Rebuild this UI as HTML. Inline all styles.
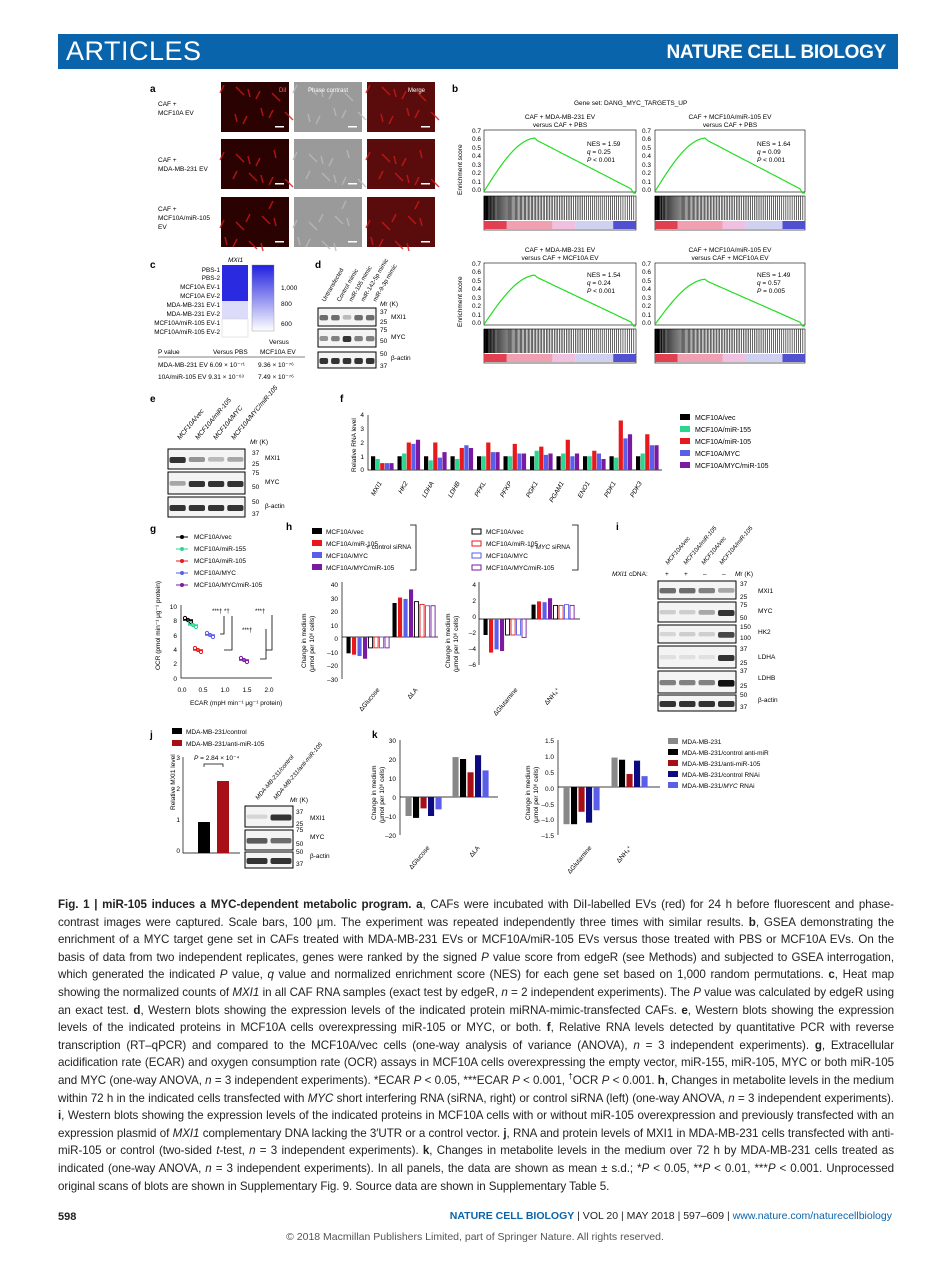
<!DOCTYPE html>
<html><head><meta charset="utf-8">
<style>
body{margin:0;background:#fff;width:950px;height:1263px;position:relative;overflow:hidden;font-family:"Liberation Sans",sans-serif}
#bar{position:absolute;left:58px;top:34px;width:840px;height:35px;background:#0a64ab}
#bar .l{position:absolute;left:8px;top:2px;color:#fff;font-size:27px;letter-spacing:0.5px}
#bar .r{position:absolute;right:12px;top:8px;color:#fff;font-size:19px;font-weight:bold;letter-spacing:-0.3px}
#cap{position:absolute;left:58px;top:896px;width:836px;font-size:11.6px;line-height:17.6px;color:#222;text-align:justify;letter-spacing:-0.05px}
#cap b{font-weight:bold}
#cap sup{line-height:0;font-size:8px}
.ft{position:absolute;font-size:10.5px;color:#222}
svg text{font-family:"Liberation Sans",sans-serif}
</style></head><body>
<div id="bar"><span class="l">ARTICLES</span><span class="r">NATURE CELL BIOLOGY</span></div>
<svg id="fig" width="950" height="900" style="position:absolute;left:0;top:0" font-size="6.5">
<!-- panel a -->
<text x="150" y="92" font-size="10" font-weight="bold">a</text>
<text x="158" y="106">CAF +</text><text x="158" y="115">MCF10A EV</text>
<text x="158" y="162">CAF +</text><text x="158" y="171">MDA-MB-231 EV</text>
<text x="158" y="211">CAF +</text><text x="158" y="220">MCF10A/miR-105</text><text x="158" y="229">EV</text>
<g id="aimgs"></g>
<text x="279" y="92" fill="#f66" font-size="6">DiI</text>
<text x="308" y="92" fill="#fff" font-size="6">Phase contrast</text>
<text x="408" y="92" fill="#fff" font-size="6">Merge</text>
<!-- panel b -->
<text x="452" y="92" font-size="10" font-weight="bold">b</text>
<text x="574" y="105" font-size="6.5">Gene set: DANG_MYC_TARGETS_UP</text>
<text x="560" y="119" text-anchor="middle">CAF + MDA-MB-231 EV</text><text x="560" y="127" text-anchor="middle">versus CAF + PBS</text>
<text x="730" y="119" text-anchor="middle">CAF + MCF10A/miR-105 EV</text><text x="730" y="127" text-anchor="middle">versus CAF + PBS</text>
<text x="560" y="252" text-anchor="middle">CAF + MDA-MB-231 EV</text><text x="560" y="260" text-anchor="middle">versus CAF + MCF10A EV</text>
<text x="730" y="252" text-anchor="middle">CAF + MCF10A/miR-105 EV</text><text x="730" y="260" text-anchor="middle">versus CAF + MCF10A EV</text>
<g id="gsea"></g>
<text x="587" y="146">NES = 1.59</text><text x="587" y="154"><tspan font-style="italic">q</tspan> = 0.25</text><text x="587" y="162"><tspan font-style="italic">P</tspan> &lt; 0.001</text>
<text x="757" y="146">NES = 1.64</text><text x="757" y="154"><tspan font-style="italic">q</tspan> = 0.09</text><text x="757" y="162"><tspan font-style="italic">P</tspan> &lt; 0.001</text>
<text x="587" y="277">NES = 1.54</text><text x="587" y="285"><tspan font-style="italic">q</tspan> = 0.24</text><text x="587" y="293"><tspan font-style="italic">P</tspan> &lt; 0.001</text>
<text x="757" y="277">NES = 1.49</text><text x="757" y="285"><tspan font-style="italic">q</tspan> = 0.57</text><text x="757" y="293"><tspan font-style="italic">P</tspan> = 0.005</text>
<text transform="translate(462,195) rotate(-90)">Enrichment score</text>
<text transform="translate(462,327) rotate(-90)">Enrichment score</text>
<!-- panel c -->
<text x="150" y="268" font-size="10" font-weight="bold">c</text>
<text x="228" y="262" font-style="italic">MXI1</text>
<g text-anchor="end" font-size="6.3">
<text x="220" y="272">PBS-1</text><text x="220" y="280">PBS-2</text><text x="220" y="289">MCF10A EV-1</text><text x="220" y="298">MCF10A EV-2</text><text x="220" y="307">MDA-MB-231 EV-1</text><text x="220" y="316">MDA-MB-231 EV-2</text><text x="220" y="325">MCF10A/miR-105 EV-1</text><text x="220" y="334">MCF10A/miR-105 EV-2</text></g>
<rect x="222" y="265" width="26" height="36" fill="#2a2ae0"/><rect x="222" y="301" width="26" height="18" fill="#dcdcfa"/><rect x="222" y="319" width="26" height="18" fill="#fff" stroke="#ccc" stroke-width=".5"/>
<defs><linearGradient id="cb" x1="0" y1="0" x2="0" y2="1"><stop offset="0" stop-color="#2020e0"/><stop offset="1" stop-color="#fff"/></linearGradient></defs>
<rect x="252" y="265" width="22" height="66" fill="url(#cb)" stroke="#888" stroke-width=".4"/>
<text x="281" y="290">1,000</text><text x="281" y="306">800</text><text x="281" y="326">600</text>
<text x="269" y="344">Versus</text>
<text x="158" y="354">P value</text><text x="213" y="354">Versus PBS</text><text x="260" y="354">MCF10A EV</text>
<line x1="158" y1="357" x2="305" y2="357" stroke="#000" stroke-width=".5"/>
<text x="158" y="367">MDA-MB-231 EV  6.09 × 10⁻⁷¹</text><text x="258" y="367">9.36 × 10⁻⁷⁶</text>
<text x="158" y="379">10A/miR-105 EV  9.31 × 10⁻⁶³</text><text x="258" y="379">7.49 × 10⁻⁷⁶</text>
<!-- panel d -->
<text x="315" y="268" font-size="10" font-weight="bold">d</text>
<g font-size="6">
<text transform="translate(325,302) rotate(-60)">Untransfected</text>
<text transform="translate(340,302) rotate(-60)">Control mimic</text>
<text transform="translate(352,302) rotate(-60)">miR-105 mimic</text>
<text transform="translate(364,302) rotate(-60)">miR-142-5p mimic</text>
<text transform="translate(376,302) rotate(-60)">miR-9-3p mimic</text></g>
<text x="380" y="306"><tspan font-style="italic">M</tspan>r (K)</text>
<g id="blotd"></g>
<text x="380" y="314">37</text><text x="380" y="324">25</text><text x="391" y="319">MXI1</text>
<text x="380" y="332">75</text><text x="380" y="343">50</text><text x="391" y="339">MYC</text>
<text x="380" y="356">50</text><text x="380" y="368">37</text><text x="391" y="360">β-actin</text>
<!-- panel e -->
<text x="150" y="402" font-size="10" font-weight="bold">e</text>
<g font-size="6.5" font-style="italic">
<text transform="translate(180,440) rotate(-50)">MCF10A/vec</text>
<text transform="translate(198,440) rotate(-50)">MCF10A/miR-105</text>
<text transform="translate(216,440) rotate(-50)">MCF10A/MYC</text>
<text transform="translate(234,440) rotate(-50)">MCF10A/MYC/miR-105</text></g>
<text x="250" y="444"><tspan font-style="italic">M</tspan>r (K)</text>
<g id="blote"></g>
<text x="252" y="455">37</text><text x="252" y="466">25</text><text x="265" y="460">MXI1</text>
<text x="252" y="475">75</text><text x="252" y="489">50</text><text x="265" y="484">MYC</text>
<text x="252" y="504">50</text><text x="252" y="516">37</text><text x="265" y="508">β-actin</text>
<!-- panel f -->
<text x="340" y="402" font-size="10" font-weight="bold">f</text>
<g id="pf"></g>
<text transform="translate(356,472) rotate(-90)">Relative RNA level</text>
<g font-size="6.5" font-style="italic">
<text transform="translate(382,483) rotate(-60)" text-anchor="end">MXI1</text>
<text transform="translate(408,483) rotate(-60)" text-anchor="end">HK2</text>
<text transform="translate(434,483) rotate(-60)" text-anchor="end">LDHA</text>
<text transform="translate(460,483) rotate(-60)" text-anchor="end">LDHB</text>
<text transform="translate(486,483) rotate(-60)" text-anchor="end">PFKL</text>
<text transform="translate(512,483) rotate(-60)" text-anchor="end">PFKP</text>
<text transform="translate(538,483) rotate(-60)" text-anchor="end">PGK1</text>
<text transform="translate(564,483) rotate(-60)" text-anchor="end">PGAM1</text>
<text transform="translate(590,483) rotate(-60)" text-anchor="end">ENO1</text>
<text transform="translate(616,483) rotate(-60)" text-anchor="end">PDK1</text>
<text transform="translate(642,483) rotate(-60)" text-anchor="end">PDK3</text></g>
<g font-size="7">
<rect x="680" y="414" width="10" height="6" fill="#000"/><text x="695" y="420">MCF10A/vec</text>
<rect x="680" y="426" width="10" height="6" fill="#2bd68f"/><text x="695" y="432">MCF10A/miR-155</text>
<rect x="680" y="438" width="10" height="6" fill="#e8191c"/><text x="695" y="444">MCF10A/miR-105</text>
<rect x="680" y="450" width="10" height="6" fill="#5a5ee8"/><text x="695" y="456">MCF10A/MYC</text>
<rect x="680" y="462" width="10" height="6" fill="#7a1aa0"/><text x="695" y="468">MCF10A/MYC/miR-105</text></g>
<!-- panel g -->
<text x="150" y="532" font-size="10" font-weight="bold">g</text>
<g font-size="6.5">
<line x1="176" y1="537" x2="188" y2="537" stroke="#000"/><circle cx="182" cy="537" r="2"/><text x="194" y="539">MCF10A/vec</text>
<line x1="176" y1="549" x2="188" y2="549" stroke="#2bd68f"/><circle cx="182" cy="549" r="2" fill="#2bd68f"/><text x="194" y="551">MCF10A/miR-155</text>
<line x1="176" y1="561" x2="188" y2="561" stroke="#e8191c"/><circle cx="182" cy="561" r="2" fill="#e8191c"/><text x="194" y="563">MCF10A/miR-105</text>
<line x1="176" y1="573" x2="188" y2="573" stroke="#5a5ee8"/><circle cx="182" cy="573" r="2" fill="#5a5ee8"/><text x="194" y="575">MCF10A/MYC</text>
<line x1="176" y1="585" x2="188" y2="585" stroke="#7a1aa0"/><circle cx="182" cy="585" r="2" fill="#7a1aa0"/><text x="194" y="587">MCF10A/MYC/miR-105</text></g>
<g id="pg"></g>
<text transform="translate(160,670) rotate(-90)">OCR (pmol min⁻¹ μg⁻¹ protein)</text>
<text x="190" y="705">ECAR (mpH min⁻¹ μg⁻¹ protein)</text>
<text x="212" y="613" font-size="6">***†  *†</text><text x="255" y="613" font-size="6">***†</text><text x="242" y="632" font-size="6">***†</text>
<!-- panel h -->
<text x="286" y="530" font-size="10" font-weight="bold">h</text>
<g font-size="6.5">
<rect x="312" y="528" width="10" height="6" fill="#000"/><text x="326" y="534">MCF10A/vec</text>
<rect x="312" y="540" width="10" height="6" fill="#e8191c"/><text x="326" y="546">MCF10A/miR-105</text>
<rect x="312" y="552" width="10" height="6" fill="#5a5ee8"/><text x="326" y="558">MCF10A/MYC</text>
<rect x="312" y="564" width="10" height="6" fill="#7a1aa0"/><text x="326" y="570">MCF10A/MYC/miR-105</text>
<text x="366" y="549">+ control siRNA</text>
<path d="M410,525h6v45h-6" fill="none" stroke="#000" stroke-width=".8"/>
<rect x="472" y="529" width="9" height="5" fill="none" stroke="#000"/><text x="486" y="534">MCF10A/vec</text>
<rect x="472" y="541" width="9" height="5" fill="none" stroke="#e8191c"/><text x="486" y="546">MCF10A/miR-105</text>
<rect x="472" y="553" width="9" height="5" fill="none" stroke="#5a5ee8"/><text x="486" y="558">MCF10A/MYC</text>
<rect x="472" y="565" width="9" height="5" fill="none" stroke="#7a1aa0"/><text x="486" y="570">MCF10A/MYC/miR-105</text>
<text x="530" y="549">+ <tspan font-style="italic">MYC</tspan> siRNA</text>
<path d="M572,525h6v45h-6" fill="none" stroke="#000" stroke-width=".8"/></g>
<g id="ph"></g>
<text transform="translate(306,668) rotate(-90)" font-size="6.5">Change in medium</text>
<text transform="translate(314,672) rotate(-90)" font-size="6.5">(μmol per 10⁶ cells)</text>
<text transform="translate(450,668) rotate(-90)" font-size="6.5">Change in medium</text>
<text transform="translate(458,672) rotate(-90)" font-size="6.5">(μmol per 10⁶ cells)</text>
<text transform="translate(380,690) rotate(-50)" text-anchor="end">ΔGlucose</text>
<text transform="translate(418,690) rotate(-50)" text-anchor="end">ΔLA</text>
<text transform="translate(518,690) rotate(-50)" text-anchor="end">ΔGlutamine</text>
<text transform="translate(560,690) rotate(-50)" text-anchor="end">ΔNH₄⁺</text>
<!-- panel i -->
<text x="616" y="530" font-size="10" font-weight="bold">i</text>
<g font-size="6" font-style="italic">
<text transform="translate(668,565) rotate(-50)">MCF10A/vec</text>
<text transform="translate(686,565) rotate(-50)">MCF10A/miR-105</text>
<text transform="translate(704,565) rotate(-50)">MCF10A/vec</text>
<text transform="translate(722,565) rotate(-50)">MCF10A/miR-105</text></g>
<text x="612" y="576" font-size="6.5"><tspan font-style="italic">MXI1</tspan> cDNA:</text>
<text x="665" y="576" font-size="6.5">+</text><text x="684" y="576" font-size="6.5">+</text><text x="703" y="576" font-size="6.5">–</text><text x="722" y="576" font-size="6.5">–</text>
<text x="735" y="576"><tspan font-style="italic">M</tspan>r (K)</text>
<g id="bloti"></g>
<text x="740" y="586">37</text><text x="740" y="599">25</text><text x="758" y="593">MXI1</text>
<text x="740" y="607">75</text><text x="740" y="620">50</text><text x="758" y="613">MYC</text>
<text x="740" y="629">150</text><text x="740" y="640">100</text><text x="758" y="634">HK2</text>
<text x="740" y="651">37</text><text x="740" y="665">25</text><text x="758" y="659">LDHA</text>
<text x="740" y="673">37</text><text x="740" y="688">25</text><text x="758" y="680">LDHB</text>
<text x="740" y="697">50</text><text x="740" y="709">37</text><text x="758" y="702">β-actin</text>
<!-- panel j -->
<text x="150" y="738" font-size="10" font-weight="bold">j</text>
<g font-size="6.5">
<rect x="172" y="728" width="10" height="6" fill="#000"/><text x="186" y="734">MDA-MB-231/control</text>
<rect x="172" y="740" width="10" height="6" fill="#a50f15"/><text x="186" y="746">MDA-MB-231/anti-miR-105</text></g>
<g id="pj"></g>
<text transform="translate(175,810) rotate(-90)" font-size="6.5">Relative MXI1 level</text>
<text x="194" y="760" font-size="6.5"><tspan font-style="italic">P</tspan> = 2.84 × 10⁻⁴</text>
<g font-size="6" font-style="italic">
<text transform="translate(258,800) rotate(-50)">MDA-MB-231/control</text>
<text transform="translate(276,800) rotate(-50)">MDA-MB-231/anti-miR-105</text></g>
<text x="290" y="802"><tspan font-style="italic">M</tspan>r (K)</text>
<g id="blotj"></g>
<text x="296" y="814">37</text><text x="296" y="826">25</text><text x="310" y="820">MXI1</text>
<text x="296" y="832">75</text><text x="296" y="846">50</text><text x="310" y="839">MYC</text>
<text x="296" y="854">50</text><text x="296" y="866">37</text><text x="310" y="858">β-actin</text>
<!-- panel k -->
<text x="372" y="738" font-size="10" font-weight="bold">k</text>
<g id="pk"></g>
<text transform="translate(376,820) rotate(-90)" font-size="6.5">Change in medium</text>
<text transform="translate(384,823) rotate(-90)" font-size="6.5">(μmol per 10⁶ cells)</text>
<text transform="translate(530,820) rotate(-90)" font-size="6.5">Change in medium</text>
<text transform="translate(538,823) rotate(-90)" font-size="6.5">(μmol per 10⁶ cells)</text>
<text transform="translate(430,848) rotate(-50)" text-anchor="end">ΔGlucose</text>
<text transform="translate(480,848) rotate(-50)" text-anchor="end">ΔLA</text>
<text transform="translate(592,848) rotate(-50)" text-anchor="end">ΔGlutamine</text>
<text transform="translate(632,848) rotate(-50)" text-anchor="end">ΔNH₄⁺</text>
<g font-size="6.5">
<rect x="668" y="738" width="10" height="6" fill="#888"/><text x="682" y="744">MDA-MB-231</text>
<rect x="668" y="749" width="10" height="6" fill="#000"/><text x="682" y="755">MDA-MB-231/control anti-miR</text>
<rect x="668" y="760" width="10" height="6" fill="#a50f15"/><text x="682" y="766">MDA-MB-231/anti-miR-105</text>
<rect x="668" y="771" width="10" height="6" fill="#0c0c80"/><text x="682" y="777">MDA-MB-231/control RNAi</text>
<rect x="668" y="782" width="10" height="6" fill="#5a5ee8"/><text x="682" y="788">MDA-MB-231/<tspan font-style="italic">MYC</tspan> RNAi</text></g>
<g font-size="6.5" text-anchor="end">
<text x="364" y="417">4</text><text x="364" y="431">3</text><text x="364" y="445">2</text><text x="364" y="459">1</text><text x="364" y="472">0</text>
<text x="177" y="609">10</text><text x="177" y="623">8</text><text x="177" y="638">6</text><text x="177" y="652">4</text><text x="177" y="666">2</text><text x="177" y="681">0</text>
<text x="338" y="587">40</text><text x="338" y="601">30</text><text x="338" y="614">20</text><text x="338" y="628">10</text><text x="338" y="641">0</text><text x="338" y="655">–10</text><text x="338" y="668">–20</text><text x="338" y="682">–30</text>
<text x="476" y="587">4</text><text x="476" y="603">2</text><text x="476" y="619">0</text><text x="476" y="635">–2</text><text x="476" y="651">–4</text><text x="476" y="667">–6</text>
<text x="180" y="760">3</text><text x="180" y="791">2</text><text x="180" y="822">1</text><text x="180" y="853">0</text>
<text x="396" y="743">30</text><text x="396" y="762">20</text><text x="396" y="781">10</text><text x="396" y="800">0</text><text x="396" y="819">–10</text><text x="396" y="838">–20</text>
<text x="554" y="743">1.5</text><text x="554" y="759">1.0</text><text x="554" y="775">0.5</text><text x="554" y="791">0.0</text><text x="554" y="807">–0.5</text><text x="554" y="822">–1.0</text><text x="554" y="838">–1.5</text>
<text x="481" y="133">0.7</text><text x="481" y="141">0.6</text><text x="481" y="150">0.5</text><text x="481" y="158">0.4</text><text x="481" y="167">0.3</text><text x="481" y="175">0.2</text><text x="481" y="184">0.1</text><text x="481" y="192">0.0</text>
<text x="651" y="133">0.7</text><text x="651" y="141">0.6</text><text x="651" y="150">0.5</text><text x="651" y="158">0.4</text><text x="651" y="167">0.3</text><text x="651" y="175">0.2</text><text x="651" y="184">0.1</text><text x="651" y="192">0.0</text>
<text x="481" y="266">0.7</text><text x="481" y="274">0.6</text><text x="481" y="283">0.5</text><text x="481" y="291">0.4</text><text x="481" y="300">0.3</text><text x="481" y="308">0.2</text><text x="481" y="317">0.1</text><text x="481" y="325">0.0</text>
<text x="651" y="266">0.7</text><text x="651" y="274">0.6</text><text x="651" y="283">0.5</text><text x="651" y="291">0.4</text><text x="651" y="300">0.3</text><text x="651" y="308">0.2</text><text x="651" y="317">0.1</text><text x="651" y="325">0.0</text>
</g>
<g font-size="6.5" text-anchor="middle"><text x="182" y="692">0.0</text><text x="203" y="692">0.5</text><text x="225" y="692">1.0</text><text x="247" y="692">1.5</text><text x="269" y="692">2.0</text></g>
</svg>
<div id="cap"><b>Fig. 1 | miR-105 induces a MYC-dependent metabolic program. a</b>, CAFs were incubated with DiI-labelled EVs (red) for 24 h before fluorescent and phase-contrast images were captured. Scale bars, 100 μm. The experiment was repeated independently three times with similar results. <b>b</b>, GSEA demonstrating the enrichment of a MYC target gene set in CAFs treated with MDA-MB-231 EVs or MCF10A/miR-105 EVs versus those treated with PBS or MCF10A EVs. On the basis of data from two independent replicates, genes were ranked by the signed <i>P</i> value score from edgeR (see Methods) and subjected to GSEA interrogation, which generated the indicated <i>P</i> value, <i>q</i> value and normalized enrichment score (NES) for each gene set based on 1,000 random permutations. <b>c</b>, Heat map showing the normalized counts of <i>MXI1</i> in all CAF RNA samples (exact test by edgeR, <i>n</i> = 2 independent experiments). The <i>P</i> value was calculated by edgeR using an exact test. <b>d</b>, Western blots showing the expression levels of the indicated protein miRNA-mimic-transfected CAFs. <b>e</b>, Western blots showing the expression levels of the indicated proteins in MCF10A cells overexpressing miR-105 or MYC, or both. <b>f</b>, Relative RNA levels detected by quantitative PCR with reverse transcription (RT–qPCR) and compared to the MCF10A/vec cells (one-way analysis of variance (ANOVA), <i>n</i> = 3 independent experiments). <b>g</b>, Extracellular acidification rate (ECAR) and oxygen consumption rate (OCR) assays in MCF10A cells overexpressing the empty vector, miR-155, miR-105, MYC or both miR-105 and MYC (one-way ANOVA, <i>n</i> = 3 independent experiments). *ECAR <i>P</i> &lt; 0.05, ***ECAR <i>P</i> &lt; 0.001, <sup>†</sup>OCR <i>P</i> &lt; 0.001. <b>h</b>, Changes in metabolite levels in the medium within 72 h in the indicated cells transfected with <i>MYC</i> short interfering RNA (siRNA, right) or control siRNA (left) (one-way ANOVA, <i>n</i> = 3 independent experiments). <b>i</b>, Western blots showing the expression levels of the indicated proteins in MCF10A cells with or without miR-105 overexpression and previously transfected with an expression plasmid of <i>MXI1</i> complementary DNA lacking the 3′UTR or a control vector. <b>j</b>, RNA and protein levels of MXI1 in MDA-MB-231 cells transfected with anti-miR-105 or control (two-sided <i>t</i>-test, <i>n</i> = 3 independent experiments). <b>k</b>, Changes in metabolite levels in the medium over 72 h by MDA-MB-231 cells treated as indicated (one-way ANOVA, <i>n</i> = 3 independent experiments). In all panels, the data are shown as mean ± s.d.; *<i>P</i> &lt; 0.05, **<i>P</i> &lt; 0.01, ***<i>P</i> &lt; 0.001. Unprocessed original scans of blots are shown in Supplementary Fig. 9. Source data are shown in Supplementary Table 5.</div>
<div class="ft" style="left:58px;top:1211px;font-weight:bold;font-size:11px">598</div>
<div class="ft" style="right:58px;top:1210px"><b style="color:#0a64ab">NATURE CELL BIOLOGY</b> | VOL 20 | MAY 2018 | 597–609 | <span style="color:#0a64ab">www.nature.com/naturecellbiology</span></div>
<div class="ft" style="left:0;width:950px;text-align:center;top:1231px;color:#555">© 2018 Macmillan Publishers Limited, part of Springer Nature. All rights reserved.</div>
<script>
const NS="http://www.w3.org/2000/svg";
function el(p,t,a){const e=document.createElementNS(NS,t);for(const k in a)e.setAttribute(k,a[k]);document.getElementById(p).appendChild(e);return e;}
[82,139,197].forEach((y,r)=>{[221,294,367].forEach((x,i)=>{el("aimgs","rect",{x:x,y:y,width:68,height:50,fill:i==0?"#2a0202":(i==1?"#9a9a9a":"#5a0c0c")});
for(let k=0;k<10;k++){const px=x+((k*37+r*13)%62)+3,py=y+((k*23+r*29)%44)+3;
el("aimgs","line",{x1:px,y1:py,x2:px+((k%3)-1)*6+2,y2:py+8,stroke:i==1?"#bbb":"#d01818","stroke-width":1.5,opacity:.8});}
el("aimgs","rect",{x:x+54,y:y+44,width:9,height:1.5,fill:"#fff"});});});
function gs(x0,y0,w,h,peak){const g="gsea";el(g,"rect",{x:x0,y:y0,width:w,height:h,fill:"none",stroke:"#000","stroke-width":.6});
let d="";for(let i=0;i<=60;i++){const t=i/60;let v=t<0.35?peak*Math.sin(t/0.35*Math.PI/2):peak*(1-(t-0.35)/0.65)*0.95;if(t>0.97)v=-0.02;
d+=(i?"L":"M")+(x0+t*w).toFixed(1)+","+(y0+h-(v/0.7)*h*0.93-h*0.01).toFixed(1);}
el(g,"path",{d:d,fill:"none",stroke:"#22dd22","stroke-width":1.2});
const by=y0+h+4;el(g,"rect",{x:x0,y:by,width:w,height:34,fill:"#fff",stroke:"#000","stroke-width":.6});
for(let i=0;i<110;i++){const t=Math.pow(((i*97)%110)/110,1.6);el(g,"line",{x1:x0+t*w,y1:by,x2:x0+t*w,y2:by+24,stroke:"#000","stroke-width":.6});}
[["#e04050",0,.15],["#f0a0b0",.15,.45],["#f0c0e0",.45,.6],["#d0d0f0",.6,.85],["#5050d0",.85,1]].forEach(([c,a,b])=>el(g,"rect",{x:x0+a*w,y:by+25,width:(b-a)*w,height:8,fill:c}));}
gs(484,130,152,62,0.65);gs(655,130,150,62,0.65);gs(484,263,152,62,0.6);gs(655,263,150,62,0.55);
function blot(p,x,y,w,h,ints){el(p,"rect",{x:x,y:y,width:w,height:h,fill:"#f4f4f4",stroke:"#000","stroke-width":1});
const n=ints.length,bw=w/n;ints.forEach((v,i)=>{el(p,"rect",{x:x+i*bw+1.5,y:y+h/2-2,width:bw-3,height:4+v*2,rx:2,fill:"#111",opacity:Math.min(1,v*0.85)});});}
blot("blotd",318,308,58,18,[.7,.7,.3,.7,.7]);blot("blotd",318,329,58,18,[.5,.6,1,.6,.6]);blot("blotd",318,352,58,16,[1,1,1,1,1]);
blot("blote",168,449,77,20,[1,.5,.3,.4]);blot("blote",168,472,77,22,[.4,1,1,1]);blot("blote",168,497,77,20,[1,1,1,1]);
blot("blotj",245,806,48,21,[.15,1]);blot("blotj",245,830,48,20,[.8,.7]);blot("blotj",245,852,48,16,[1,1]);
[[581,18,[.7,.7,.6,.4]],[602,20,[.2,.2,.4,1]],[625,18,[.15,.2,.2,.9]],[646,22,[.1,.1,.1,1]],[671,22,[.6,.6,.6,1.3]],[695,16,[1,1,1,1]]].forEach(([y,h,v])=>blot("blotj",658,y,78,h,v));
const C=["#000","#2bd68f","#e8191c","#5a5ee8","#7a1aa0"];
const F=[[1,.8,.5,.5,.5],[1,1.2,2,1.9,2.2],[1,.7,2,.9,1.3],[1,.8,1.6,1.8,1.6],[1,1,2,1.3,1.3],[1,1,1.9,1.2,1.2],[1,1.4,1.7,1.1,1.2],[1,1.2,2.2,1,1.2],[1,1,1.4,1.2,.8],[1,.9,3.6,2.3,2.6],[1,1.2,2.6,1.8,1.8]];
el("pf","path",{d:"M368,415V470H662",fill:"none",stroke:"#000","stroke-width":.7});
F.forEach((g,i)=>g.forEach((v,j)=>{const x=371+i*26.5+j*4.6;el("pf","rect",{x:x,y:470-v*13.75,width:4.2,height:v*13.75,fill:C[j]});}));
el("pg","path",{d:"M181,605V678H272",fill:"none",stroke:"#000","stroke-width":.7});
[[188,620,"#000"],[193,625,"#2bd68f"],[198,650,"#e8191c"],[210,635,"#5a5ee8"],[244,660,"#7a1aa0"]].forEach(([x,y,c])=>{el("pg","line",{x1:x-5,y1:y,x2:x+5,y2:y,stroke:c,"stroke-width":1.5});for(let k=-1;k<2;k++)el("pg","circle",{cx:x+k*3,cy:y+k*2,r:1.6,fill:"none",stroke:c});});
el("pg","path",{d:"M220,634h4v-18M224,650h8v-34M260,659h6v-30M266,650h6v-35",fill:"none",stroke:"#000","stroke-width":.8});
function bars(p,x0,yz,sc,groups,cols,gw,bw,open){groups.forEach((g,i)=>g.forEach((v,j)=>{const x=x0+i*gw+j*bw;const y=v>0?yz-v*sc:yz;
const o=open&&open[j];el(p,"rect",{x:x+.5,y:y,width:bw-1.4,height:Math.abs(v)*sc,fill:o?"#fff":cols[j],stroke:cols[j],"stroke-width":o?.9:0});}));}
const HC=["#000","#e8191c","#5a5ee8","#7a1aa0","#000","#e8191c","#5a5ee8","#7a1aa0"],HO=[0,0,0,0,1,1,1,1];
el("ph","path",{d:"M342,582V679M342,637H438",fill:"none",stroke:"#000","stroke-width":.7});
bars("ph",346,637,1.36,[[-12,-13,-14,-16,-8,-8,-8,-8],[25,29,28,35,26,24,23,23]],HC,46,5.5,HO);
el("ph","path",{d:"M479,582V665M479,619H580",fill:"none",stroke:"#000","stroke-width":.7});
bars("ph",483,619,8,[[-2,-4.2,-3.8,-4,-2,-2,-2,-2.3],[1.8,2.2,2.1,2.6,1.7,1.7,1.8,1.7]],HC,48,5.5,HO);
el("pj","path",{d:"M183,757V853H240",fill:"none",stroke:"#000","stroke-width":.7});
el("pj","rect",{x:198,y:822,width:12,height:31,fill:"#000"});el("pj","rect",{x:217,y:781,width:12,height:72,fill:"#a50f15"});
el("pj","path",{d:"M204,767v-3h19v3",fill:"none",stroke:"#000","stroke-width":.7});
const KC=["#888","#000","#a50f15","#0c0c80","#5a5ee8"];
el("pk","path",{d:"M400,740V835M400,797H498",fill:"none",stroke:"#000","stroke-width":.7});
bars("pk",405,797,1.9,[[-10,-11,-6,-10,-6.5],[21,20,13,22,14]],KC,47,7.5);
el("pk","path",{d:"M558,740V835M558,787H660",fill:"none",stroke:"#000","stroke-width":.7});
bars("pk",563,787,31,[[-1.2,-1.2,-.8,-1.15,-.75],[.95,.88,.42,.85,.35]],KC,48,7.5);
</script>
</body></html>
